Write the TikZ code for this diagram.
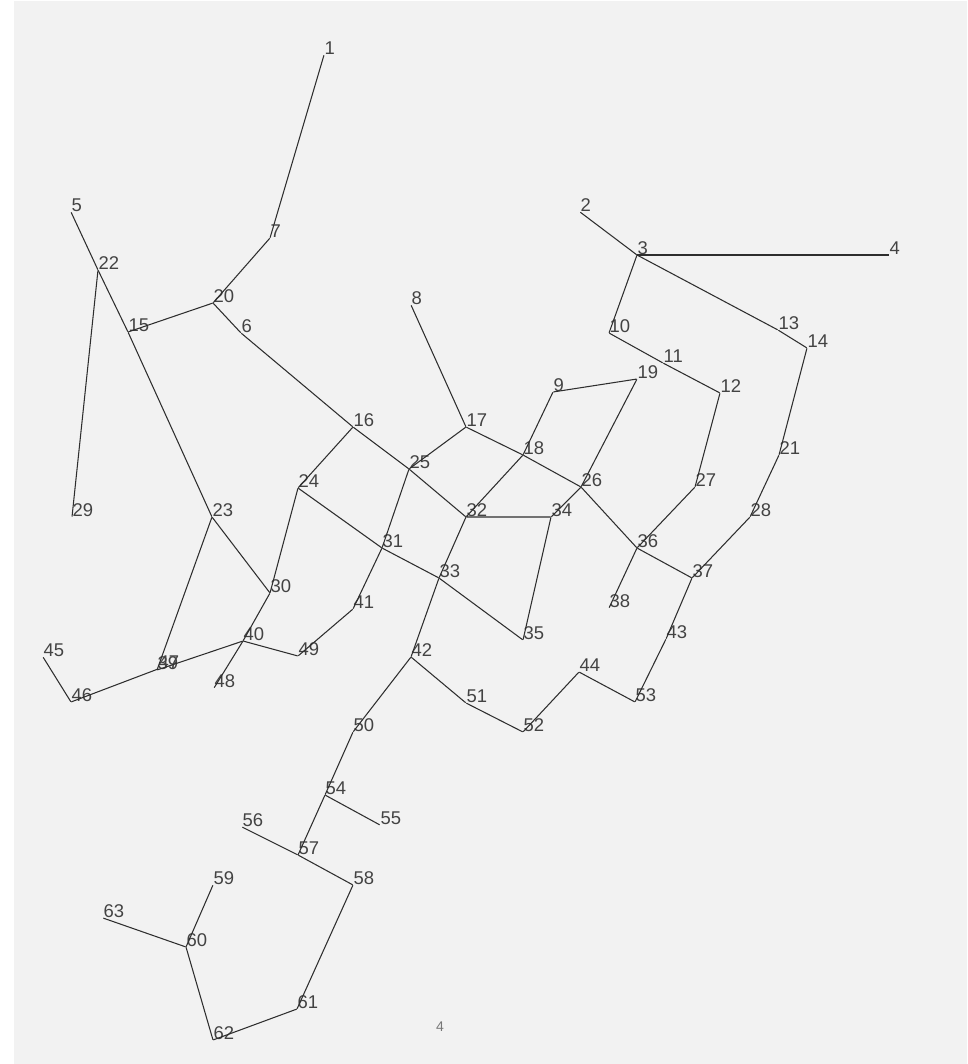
\documentclass[tikz,border=0pt]{standalone}
\usepackage{fontspec}
\setmainfont{Liberation Sans}
\usetikzlibrary{positioning}
\definecolor{canvas}{HTML}{F2F2F2}
\definecolor{ink}{HTML}{2E2E2E}

\begin{document}
\begin{tikzpicture}[x=0.02cm, y=-0.02cm,
    num/.style={font=\fontsize{10.5}{12}\selectfont, text=ink!90, inner sep=0pt, label distance=0pt},
    v/.style={inner sep=0pt, minimum size=0pt, label={[num]45:#1}},
    edge/.style={draw=ink, line width=0.6pt}
]
    % Canvas
    \useasboundingbox (0,0) rectangle (967,1064);
    \fill[white] (0,0) rectangle (967,1064);
    \fill[canvas] (14,1) rectangle (967,1064);

    % Upper part
    \node[v=1] (n1) at (324,55) {};
    \node[v=2] (n2) at (580,212) {};
    \node[v=3] (n3) at (637,255) {};
    \node[v=4] (n4) at (889,255) {};
    \node[v=5] (n5) at (71,212) {};
    \node[v=6] (n6) at (241,333) {};
    \node[v=7] (n7) at (270,238) {};
    \node[v=8] (n8) at (411,305) {};
    \node[v=9] (n9) at (553,392) {};
    \node[v=10] (n10) at (609,333) {};
    \node[v=11] (n11) at (663,363) {};
    \node[v=12] (n12) at (720,393) {};
    \node[v=13] (n13) at (778,330) {};
    \node[v=14] (n14) at (807,348) {};
    \node[v=15] (n15) at (128,332) {};
    \node[v=16] (n16) at (353,427) {};
    \node[v=17] (n17) at (466,427) {};
    \node[v=18] (n18) at (523,455) {};
    \node[v=19] (n19) at (637,379) {};
    \node[v=20] (n20) at (213,303) {};
    \node[v=21] (n21) at (779,455) {};
    \node[v=22] (n22) at (98,270) {};

    % Middle part
    \node[v=23] (n23) at (212,517) {};
    \node[v=24] (n24) at (298,488) {};
    \node[v=25] (n25) at (409,469) {};
    \node[v=26] (n26) at (581,487) {};
    \node[v=27] (n27) at (695,487) {};
    \node[v=28] (n28) at (750,517) {};
    \node[v=29] (n29) at (72,517) {};
    \node[v=30] (n30) at (270,593) {};
    \node[v=31] (n31) at (382,548) {};
    \node[v=32] (n32) at (466,517) {};
    \node[v=33] (n33) at (439,578) {};
    \node[v=34] (n34) at (551,517) {};
    \node[v=35] (n35) at (523,640) {};
    \node[v=36] (n36) at (637,548) {};
    \node[v=37] (n37) at (692,578) {};
    \node[v=38] (n38) at (609,608) {};
    \node[v=39] (n39) at (157,670) {};
    \node[v=40] (n40) at (243,641) {};
    \node[v=41] (n41) at (353,609) {};
    \node[v=42] (n42) at (411,657) {};
    \node[v=43] (n43) at (666,639) {};
    \node[v=44] (n44) at (579,672) {};
    \node[v=45] (n45) at (43,657) {};
    \node[v=46] (n46) at (71,702) {};
    \node[v=47] (n47) at (158,669) {};
    \node[v=48] (n48) at (214,688) {};
    \node[v=49] (n49) at (298,656) {};
    \node[v=50] (n50) at (353,732) {};
    \node[v=51] (n51) at (466,703) {};
    \node[v=52] (n52) at (523,732) {};
    \node[v=53] (n53) at (635,702) {};

    % Lower part
    \node[v=54] (n54) at (325,795) {};
    \node[v=55] (n55) at (380,825) {};
    \node[v=56] (n56) at (242,827) {};
    \node[v=57] (n57) at (298,855) {};
    \node[v=58] (n58) at (353,885) {};
    \node[v=59] (n59) at (213,885) {};
    \node[v=60] (n60) at (186,947) {};
    \node[v=61] (n61) at (297,1009) {};
    \node[v=62] (n62) at (213,1040) {};
    \node[v=63] (n63) at (103,918) {};

    % Page number
    \node[font=\fontsize{8}{9}\selectfont, text=ink!65] (page) at (440,1027) {4};

    % Edges
    \draw[edge] (n1) -- (n7) -- (n20) -- (n15);
    \draw[edge] (n5) -- (n22) -- (n15) -- (n23) -- (n30) -- (n40) -- (n48);
    \draw[edge] (n22) -- (n29);
    \draw[edge] (n20) -- (n6) -- (n16) -- (n25) -- (n32) -- (n33) -- (n42) -- (n50) -- (n54) -- (n57) -- (n58) -- (n61) -- (n62) -- (n60) -- (n59);
    \draw[edge] (n16) -- (n24) -- (n30);
    \draw[edge] (n24) -- (n31) -- (n33) -- (n35);
    \draw[edge] (n23) -- (n39) -- (n40) -- (n49) -- (n41) -- (n31) -- (n25) -- (n17) -- (n8);
    \draw[edge] (n45) -- (n46) -- (n47);
    \draw[edge] (n17) -- (n18) -- (n26) -- (n36) -- (n37) -- (n43) -- (n53) -- (n44) -- (n52) -- (n51) -- (n42);
    \draw[edge] (n18) -- (n32) -- (n34) -- (n26);
    \draw[edge] (n34) -- (n35);
    \draw[edge] (n18) -- (n9) -- (n19) -- (n26);
    \draw[edge] (n36) -- (n38);
    \draw[edge] (n36) -- (n27) -- (n12) -- (n11) -- (n10) -- (n3) -- (n2);
    \draw[edge] (n3) -- (n4);
    \draw[edge] (n3) -- (n13) -- (n14) -- (n21) -- (n28) -- (n37);
    \draw[edge] (n54) -- (n55);
    \draw[edge] (n56) -- (n57);
    \draw[edge] (n60) -- (n63);
\end{tikzpicture}
\end{document}
